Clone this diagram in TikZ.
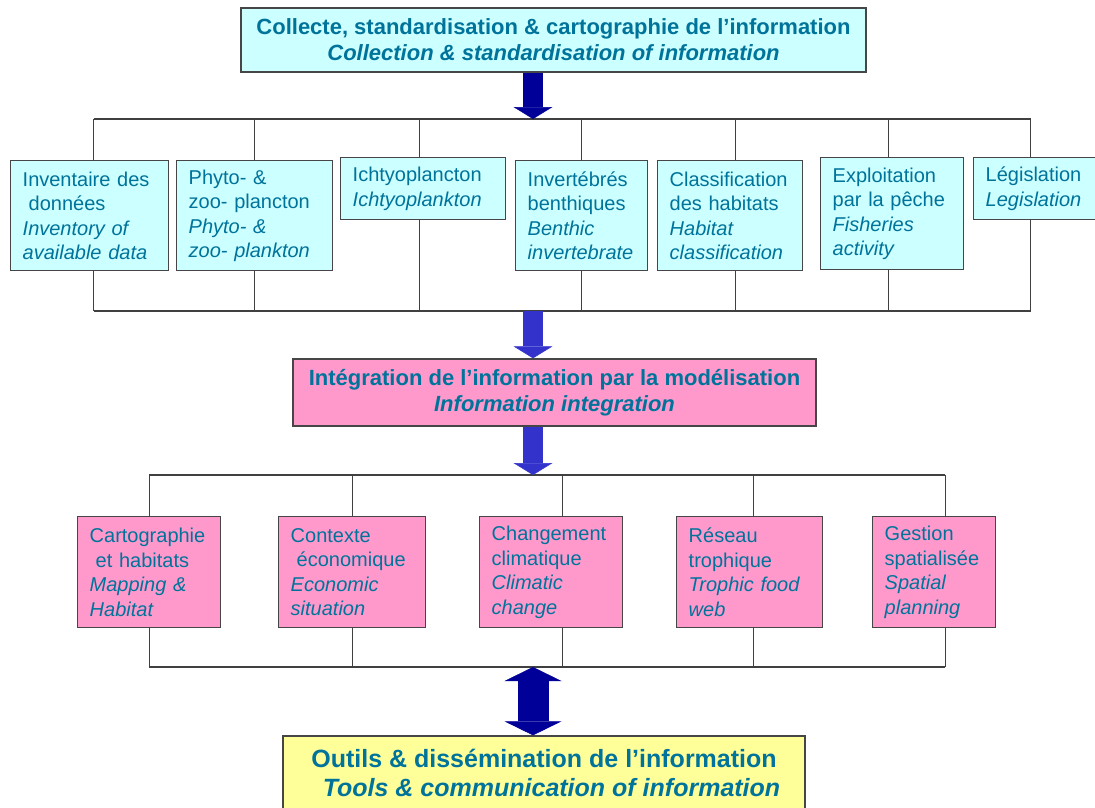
\documentclass[tikz,border=0pt]{standalone}
\usepackage{fontspec}
\setmainfont{Liberation Sans}
\usetikzlibrary{arrows.meta}
\definecolor{infocyan}{RGB}{204,255,255}
\definecolor{modpink}{RGB}{255,153,204}
\definecolor{toolyellow}{RGB}{255,255,153}
\definecolor{tealtext}{RGB}{0,115,155}
\definecolor{navyarrow}{RGB}{0,0,153}
\definecolor{bluearrow}{RGB}{51,51,204}
\definecolor{boxline}{RGB}{70,70,70}

\begin{document}
\begin{tikzpicture}[x=1pt, y=-1pt,
    every node/.style={text=tealtext, font=\fontsize{20}{24.5}\selectfont},
    themebox/.style={draw=boxline, line width=1.4pt, rectangle, anchor=north west, inner xsep=12pt, inner ysep=0pt, align=left},
    titlebox/.style={draw=boxline, line width=1.4pt, rectangle, inner sep=0pt, align=center, font=\fontsize{22}{26}\selectfont\bfseries},
    busline/.style={draw=black!75, line width=1.1pt},
    blockarrow/.style={line width=20pt, -{Triangle[width=39pt, length=12pt, line width=0.5pt]}}]
    \useasboundingbox (0,0) rectangle (1095,807);

    % Collection
    \node[titlebox, fill=infocyan, minimum width=625pt, minimum height=64pt] (collect) at (553.5,40) {Collecte, standardisation \& cartographie de l’information\\\itshape Collection \& standardisation of information};

    % Data themes
    \node[themebox, fill=infocyan, minimum width=158pt, minimum height=110pt, text width=134pt] (inv) at (10,160) {Inventaire des\\\hspace*{0.3em}données\\\itshape Inventory of\\\itshape available data};
    \node[themebox, fill=infocyan, minimum width=156pt, minimum height=110pt, text width=132pt] (plk) at (176,160) {Phyto- \&\\zoo- plancton\\\itshape Phyto- \&\\\itshape zoo- plankton};
    \node[themebox, fill=infocyan, minimum width=165pt, minimum height=62pt, text width=141pt] (ich) at (340,157) {Ichtyoplancton\\\itshape Ichtyoplankton};
    \node[themebox, fill=infocyan, minimum width=132pt, minimum height=110pt, text width=108pt] (ben) at (515,160) {Invertébrés\\benthiques\\\itshape Benthic\\\itshape invertebrate};
    \node[themebox, fill=infocyan, minimum width=145pt, minimum height=110pt, text width=121pt] (hab) at (657,160) {Classification\\des habitats\\\itshape Habitat\\\itshape classification};
    \node[themebox, fill=infocyan, minimum width=143pt, minimum height=112pt, text width=119pt] (fish) at (820,157) {Exploitation\\par la pêche\\\itshape Fisheries\\\itshape activity};
    \node[themebox, fill=infocyan, minimum width=130pt, minimum height=62pt, text width=106pt] (leg) at (973,157) {Législation\\\itshape Legislation};

    % Modelling
    \node[titlebox, fill=modpink, minimum width=523pt, minimum height=67pt] (model) at (554.5,392.5) {Intégration de l’information par la modélisation\\\itshape Information integration};

    % Model outputs
    \node[themebox, fill=modpink, minimum width=143pt, minimum height=111pt, text width=119pt] (map) at (77,516) {Cartographie\\\hspace*{0.3em}et habitats\\\itshape Mapping \&\\\itshape Habitat};
    \node[themebox, fill=modpink, minimum width=147pt, minimum height=111pt, text width=123pt] (eco) at (278,516) {Contexte\\\hspace*{0.3em}économique\\\itshape Economic\\\itshape situation};
    \node[themebox, fill=modpink, minimum width=143pt, minimum height=111pt, text width=119pt] (clim) at (479,516) {Changement\\climatique\\\itshape Climatic\\\itshape change};
    \node[themebox, fill=modpink, minimum width=146pt, minimum height=111pt, text width=122pt] (web) at (676,516) {Réseau\\trophique\\\itshape Trophic food\\\itshape web};
    \node[themebox, fill=modpink, minimum width=123pt, minimum height=111pt, text width=99pt] (plan) at (872,516) {Gestion\\spatialisée\\\itshape Spatial\\\itshape planning};

    % Tools
    \node[titlebox, fill=toolyellow, minimum width=522pt, minimum height=74pt, font=\fontsize{25}{29.5}\selectfont\bfseries] (tools) at (544,773) {Outils \& dissémination de l’information\\\itshape \hspace*{0.6em}Tools \& communication of information};

    % Bus coordinates
    \coordinate (bus1) at (533,119);
    \coordinate (bus2) at (533,311);
    \coordinate (bus3) at (533,475);
    \coordinate (bus4) at (533,667);

    % Top bus
    \draw[busline] ([xshift=4pt]inv.north |- bus1) -- ([xshift=-8pt]leg.north |- bus1);
    \draw[busline] ([xshift=4pt]inv.north) -- ([xshift=4pt]inv.north |- bus1);
    \draw[busline] (plk.north) -- (plk.north |- bus1);
    \draw[busline] ([xshift=-4pt]ich.north) -- ([xshift=-4pt]ich.north |- bus1);
    \draw[busline] (ben.north) -- (ben.north |- bus1);
    \draw[busline] ([xshift=5pt]hab.north) -- ([xshift=5pt]hab.north |- bus1);
    \draw[busline] ([xshift=-4pt]fish.north) -- ([xshift=-4pt]fish.north |- bus1);
    \draw[busline] ([xshift=-8pt]leg.north) -- ([xshift=-8pt]leg.north |- bus1);

    % Bottom bus
    \draw[busline] ([xshift=4pt]inv.south |- bus2) -- ([xshift=-8pt]leg.south |- bus2);
    \draw[busline] ([xshift=4pt]inv.south) -- ([xshift=4pt]inv.south |- bus2);
    \draw[busline] (plk.south) -- (plk.south |- bus2);
    \draw[busline] ([xshift=-4pt]ich.south) -- ([xshift=-4pt]ich.south |- bus2);
    \draw[busline] (ben.south) -- (ben.south |- bus2);
    \draw[busline] ([xshift=5pt]hab.south) -- ([xshift=5pt]hab.south |- bus2);
    \draw[busline] ([xshift=-4pt]fish.south) -- ([xshift=-4pt]fish.south |- bus2);
    \draw[busline] ([xshift=-8pt]leg.south) -- ([xshift=-8pt]leg.south |- bus2);

    % Output bus (top)
    \draw[busline] (map.north |- bus3) -- ([xshift=11pt]plan.north |- bus3);
    \draw[busline] (map.north) -- (map.north |- bus3);
    \draw[busline] (eco.north) -- (eco.north |- bus3);
    \draw[busline] ([xshift=11pt]clim.north) -- ([xshift=11pt]clim.north |- bus3);
    \draw[busline] ([xshift=4pt]web.north) -- ([xshift=4pt]web.north |- bus3);
    \draw[busline] ([xshift=11pt]plan.north) -- ([xshift=11pt]plan.north |- bus3);

    % Output bus (bottom)
    \draw[busline] (map.south |- bus4) -- ([xshift=11pt]plan.south |- bus4);
    \draw[busline] (map.south) -- (map.south |- bus4);
    \draw[busline] (eco.south) -- (eco.south |- bus4);
    \draw[busline] ([xshift=11pt]clim.south) -- ([xshift=11pt]clim.south |- bus4);
    \draw[busline] ([xshift=4pt]web.south) -- ([xshift=4pt]web.south |- bus4);
    \draw[busline] ([xshift=11pt]plan.south) -- ([xshift=11pt]plan.south |- bus4);

    % Block arrows
    \draw[blockarrow, navyarrow] (collect.south -| bus1) -- (bus1);
    \draw[blockarrow, bluearrow] (bus2) -- (model.north -| bus2);
    \draw[blockarrow, bluearrow] (model.south -| bus3) -- (bus3);
    \draw[navyarrow, line width=31pt, {Triangle[width=57pt, length=14pt, line width=0.5pt]}-{Triangle[width=57pt, length=14pt, line width=0.5pt]}] (bus4) -- (tools.north -| bus4);
\end{tikzpicture}
\end{document}
